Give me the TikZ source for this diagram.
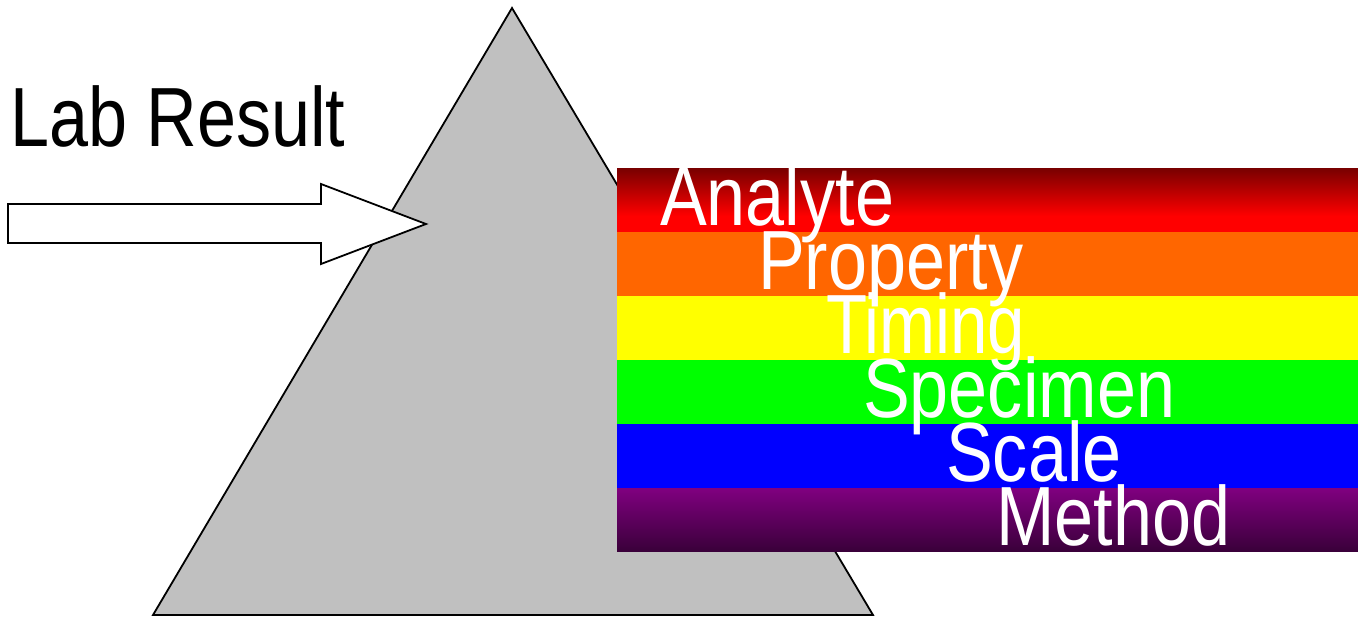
\documentclass[tikz,border=0pt]{standalone}
\usepackage{fontspec}
\setmainfont[FakeStretch=0.835]{Liberation Sans}
\definecolor{bandorange}{HTML}{FF6600}
\definecolor{bandred}{HTML}{FF0000}
\definecolor{darkred}{HTML}{780000}
\definecolor{bandyellow}{HTML}{FFFF00}
\definecolor{bandgreen}{HTML}{00FF00}
\definecolor{bandblue}{HTML}{0000FF}
\definecolor{bandpurple}{HTML}{800080}
\definecolor{darkpurple}{HTML}{3A003A}
\definecolor{prismgray}{HTML}{C0C0C0}
\tikzset{
  outline/.style={draw=black, line width=1.8pt, line join=miter},
  bandtext/.style={text=white, anchor=base west, inner sep=0pt, font=\fontsize{84}{90}\selectfont},
  labeltext/.style={text=black, anchor=base west, inner sep=0pt, font=\fontsize{84}{90}\selectfont}
}
\begin{document}
\begin{tikzpicture}[x=1pt,y=-1pt]
\useasboundingbox (0,0) rectangle (1358,618);
% prism
\path[outline, fill=prismgray] (512,8) -- (873,615) -- (153,615) -- cycle;
% arrow
\path[outline, fill=white] (8,204) -- (321,204) -- (321,184) -- (426,224) -- (321,264) -- (321,243) -- (8,243) -- cycle;
% bands
\shade[top color=darkred, bottom color=bandred] (617,168) rectangle (1358,216);
\fill[bandred] (617,215.5) rectangle (1358,232);
\fill[bandorange] (617,232) rectangle (1358,296);
\fill[bandyellow] (617,296) rectangle (1358,360);
\fill[bandgreen] (617,360) rectangle (1358,424);
\fill[bandblue] (617,424) rectangle (1358,488);
\shade[top color=bandpurple, bottom color=darkpurple] (617,488) rectangle (1358,551);
% texts
\node[labeltext] (lab) at (10,146) {Lab Result};
\node[bandtext] (analyte) at (660,225) {Analyte};
\node[bandtext] (property) at (758,289) {Property};
\node[bandtext] (timing) at (826,353) {\fontspec[FakeStretch=0.8]{Liberation Sans}Timing};
\node[bandtext] (specimen) at (863,417) {Specimen};
\node[bandtext] (scale) at (946,481) {Scale};
\node[bandtext] (method) at (996,545) {Method};
\end{tikzpicture}
\end{document}
